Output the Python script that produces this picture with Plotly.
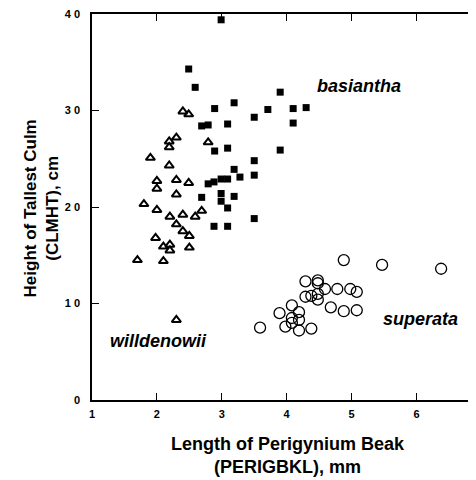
import plotly.graph_objects as go

# basiantha (filled squares)
bas_x = [2.99, 2.49, 2.59, 3.90, 3.19, 2.89, 3.71, 4.10, 4.30, 3.50, 2.69, 2.79, 3.09, 4.10,
         2.89, 3.09, 3.90, 3.50, 3.19, 3.50, 3.28, 2.79, 2.88, 2.99, 3.09, 2.69, 2.99, 3.19,
         2.99, 3.09, 2.88, 3.09, 3.50]
bas_y = [39.4, 34.3, 32.4, 31.9, 30.8, 30.2, 30.1, 30.2, 30.3, 29.3, 28.4, 28.5, 28.6, 28.7,
         25.8, 26.1, 25.9, 24.8, 23.9, 23.3, 23.1, 22.4, 22.6, 22.9, 22.9, 21.0, 21.4, 21.1,
         20.6, 19.9, 18.0, 18.0, 18.8]

# willdenowii (open triangles)
wil_x = [2.40, 2.49, 2.30, 2.19, 2.19, 2.79, 1.90, 2.19, 2.00, 2.00, 2.30, 2.49, 2.30, 1.80,
         2.00, 2.20, 2.40, 2.59, 2.69, 2.30, 2.40, 2.50, 1.98, 2.10, 2.20, 2.20, 2.50, 1.70,
         2.10, 2.30]
wil_y = [29.9, 29.6, 27.2, 26.8, 26.2, 26.7, 25.1, 24.3, 22.7, 21.9, 22.8, 22.5, 21.3, 20.3,
         19.7, 19.0, 19.2, 19.0, 19.6, 18.2, 17.5, 17.0, 16.8, 15.9, 16.1, 15.5, 15.8, 14.5,
         14.4, 8.3]

# superata (open circles)
sup_x = [4.88, 5.47, 6.38, 4.29, 4.48, 4.48, 4.59, 4.78, 4.98, 5.08, 4.29, 4.38, 4.48, 4.48,
         4.08, 4.68, 4.88, 5.08, 3.89, 4.19, 4.08, 4.19, 4.08, 3.98, 4.19, 4.38, 3.59]
sup_y = [14.5, 14.0, 13.6, 12.3, 12.4, 12.1, 11.5, 11.5, 11.5, 11.2, 10.7, 10.8, 11.0, 10.4,
         9.8, 9.6, 9.2, 9.3, 9.0, 9.1, 8.5, 8.3, 8.0, 7.6, 7.2, 7.4, 7.5]

x_ticks = [1, 2, 3, 4, 5, 6]
x_ticktext = ["1", "2", "3", "4", "5", "6"]
y_ticks = [0, 10, 20, 30, 40]
y_ticktext = ["0", "1 0", "2 0", "3 0", "4 0"]

FONT = "Liberation Sans, Arial, sans-serif"

fig = go.Figure()
fig.add_trace(go.Scatter(x=bas_x, y=bas_y, mode="markers", name="basiantha",
                         marker=dict(symbol="square", size=7, color="black",
                                     line=dict(width=0))))
fig.add_trace(go.Scatter(x=wil_x, y=wil_y, mode="markers", name="willdenowii",
                         marker=dict(symbol="triangle-up-open", size=8, color="black",
                                     line=dict(width=2, color="black"))))
fig.add_trace(go.Scatter(x=sup_x, y=sup_y, mode="markers", name="superata",
                         marker=dict(symbol="circle-open", size=11, color="black",
                                     line=dict(width=1.3, color="black"))))

labels = [("basiantha", 5.11, 32.5), ("superata", 6.06, 8.35), ("willdenowii", 2.02, 6.1)]
for txt, lx, ly in labels:
    fig.add_annotation(x=lx, y=ly, text="<b><i>" + txt + "</i></b>", showarrow=False,
                       font=dict(family=FONT, size=18, color="black"),
                       xanchor="center", yanchor="middle")

fig.add_annotation(xref="paper", yref="paper", x=-0.13, y=0.497,
                   text="<b>Height of Tallest Culm<br>(CLMHT), cm</b>", textangle=-90,
                   showarrow=False, xanchor="center", yanchor="middle",
                   font=dict(family=FONT, size=17, color="black"))
fig.add_annotation(xref="paper", yref="paper", x=0.5026, y=-0.144,
                   text="<b>Length of Perigynium Beak<br>(PERIGBKL), mm</b>",
                   showarrow=False, xanchor="center", yanchor="middle",
                   font=dict(family=FONT, size=18, color="black"))

fig.update_layout(
    width=476, height=480,
    margin=dict(l=84, r=0, t=4, b=88),
    paper_bgcolor="white", plot_bgcolor="white",
    showlegend=False,
    font=dict(family=FONT, color="black"),
)
fig.update_xaxes(range=[1, 7.01], tickvals=x_ticks, ticktext=x_ticktext,
                 ticks="inside", ticklen=7, tickwidth=1.3, tickcolor="black",
                 showline=True, linecolor="black", linewidth=1.5, mirror="allticks",
                 showgrid=False, zeroline=False, ticklabelstandoff=3,
                 ticklabeloverflow="allow",
                 tickfont=dict(family=FONT, size=11, color="black", weight="bold"))
fig.update_yaxes(range=[0, 40], tickvals=y_ticks, ticktext=y_ticktext,
                 ticks="inside", ticklen=7, tickwidth=1.3, tickcolor="black",
                 showline=True, linecolor="black", linewidth=1.5, mirror="allticks",
                 showgrid=False, zeroline=False, ticklabelstandoff=8,
                 ticklabeloverflow="allow",
                 tickfont=dict(family=FONT, size=11, color="black", weight="bold"))

fig.write_html("out.html")
